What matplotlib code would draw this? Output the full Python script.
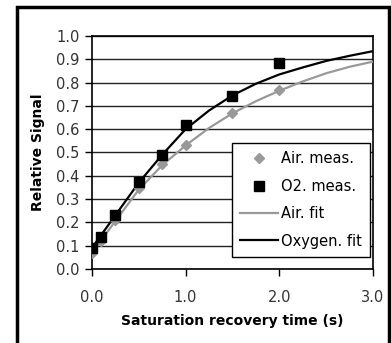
import matplotlib.pyplot as plt
from matplotlib.patches import Rectangle

# measured points
t_meas = [0.0, 0.1, 0.25, 0.5, 0.75, 1.0, 1.5, 2.0]
air_meas = [0.07, 0.12, 0.21, 0.347, 0.45, 0.53, 0.67, 0.768]
o2_meas = [0.09, 0.137, 0.23, 0.373, 0.49, 0.617, 0.742, 0.884]

# fitted curves
t_fit = [0.0, 0.25, 0.5, 0.75, 1.0, 1.25, 1.5, 1.75, 2.0, 2.25, 2.5, 2.75, 3.0]
air_fit = [0.07, 0.205, 0.34, 0.445, 0.53, 0.605, 0.668, 0.72, 0.765, 0.805, 0.84, 0.868, 0.89]
o2_fit = [0.09, 0.23, 0.37, 0.49, 0.60, 0.68, 0.745, 0.795, 0.835, 0.865, 0.893, 0.915, 0.935]

x_ticks = [0.0, 1.0, 2.0, 3.0]
y_ticks = [0.0, 0.1, 0.2, 0.3, 0.4, 0.5, 0.6, 0.7, 0.8, 0.9, 1.0]

plt.rcParams['font.family'] = ['DejaVu Sans']

fig = plt.figure(figsize=(3.91, 3.43), dpi=100)
fig.patches.append(Rectangle((0.043, -0.02), 0.952, 1.0, transform=fig.transFigure,
                             fill=False, edgecolor='black', linewidth=2.5))
ax = fig.add_axes([0.235, 0.216, 0.719, 0.679])

gray = '#999999'
ax.plot(t_fit, air_fit, color=gray, lw=1.6, label='Air. fit', zorder=3)
ax.plot(t_fit, o2_fit, color='black', lw=1.6, label='Oxygen. fit', zorder=4)
ax.plot(t_meas, air_meas, ls='none', marker='D', ms=5, color=gray, label='Air. meas.', zorder=5)
ax.plot(t_meas, o2_meas, ls='none', marker='s', ms=7, color='black', label='O2. meas.', zorder=6)

ax.set_xlim(0, 3.0)
ax.set_ylim(0, 1.0)
ax.set_xticks(x_ticks)
ax.set_xticklabels([f'{v:.1f}' for v in x_ticks])
ax.set_yticks(y_ticks)
ax.set_yticklabels([f'{v:.1f}' for v in y_ticks])
ax.tick_params(direction='out', length=5, width=1, labelsize=10.5, labelcolor='#333333', pad=4)
ax.tick_params(axis='x', pad=10)
ax.yaxis.grid(True, color='#222222', lw=1)
ax.set_axisbelow(True)
for s in ax.spines.values():
    s.set_linewidth(1.2)

ax.set_xlabel('Saturation recovery time (s)', fontsize=10, fontweight='bold', labelpad=7)
ax.set_ylabel('Relative Signal', fontsize=10, fontweight='bold', labelpad=8)

h, l = ax.get_legend_handles_labels()
order = [2, 3, 0, 1]
leg = ax.legend([h[i] for i in order], [l[i] for i in order], loc='lower right',
                bbox_to_anchor=(0.99, 0.05), fontsize=10.5, fancybox=False, framealpha=1,
                edgecolor='black', borderpad=0.6, labelspacing=0.85, handlelength=2.6,
                handletextpad=0.15, borderaxespad=0)
leg.get_frame().set_linewidth(1.0)

fig.savefig('out.png', dpi=100)
